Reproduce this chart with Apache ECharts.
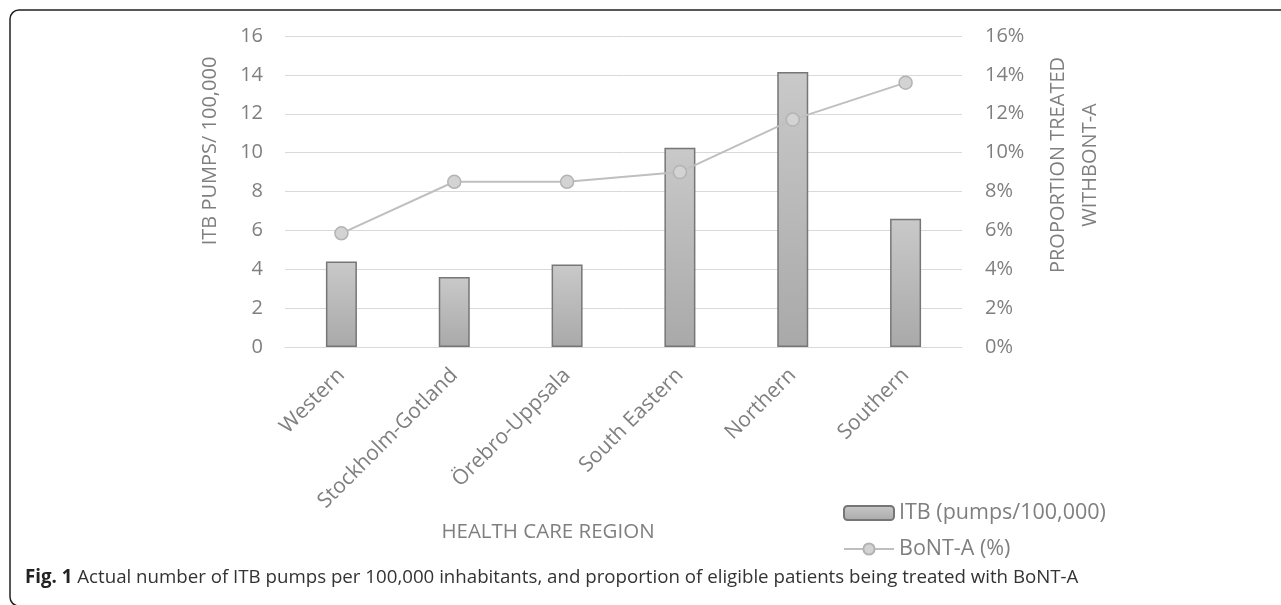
<!DOCTYPE html>
<html>
<head>
<meta charset="utf-8">
<script src="https://cdn.jsdelivr.net/npm/echarts@6/dist/echarts.min.js"></script>
<style>
  html, body { margin: 0; padding: 0; background: #fff; }
  #chart { width: 1281px; height: 605px; }
</style>
</head>
<body>
<div id="chart"></div>
<script>
const categories = ['Western', 'Stockholm-Gotland', 'Örebro-Uppsala', 'South Eastern', 'Northern', 'Southern'];
const itbValues = [4.4, 3.6, 4.25, 10.25, 14.15, 6.6];
const bontValues = [5.85, 8.5, 8.5, 9.0, 11.7, 13.6];
const leftTicks = [0, 2, 4, 6, 8, 10, 12, 14, 16];
const rightTicks = ['0%', '2%', '4%', '6%', '8%', '10%', '12%', '14%', '16%'];
const seriesNames = ['ITB (pumps/100,000)', 'BoNT-A (%)'];

const FONT = '"Open Sans", "DejaVu Sans", sans-serif';
const GRAY = '#7f7f7f';

const chart = echarts.init(document.getElementById('chart'), null, { renderer: 'canvas' });

chart.setOption({
  animation: false,
  backgroundColor: '#ffffff',
  textStyle: { fontFamily: FONT },
  grid: { left: 285, right: 319, top: 36, bottom: 258, containLabel: false },
  legend: {
    orient: 'vertical',
    left: 843,
    top: 502,
    padding: 0,
    itemWidth: 50,
    itemHeight: 14,
    itemGap: 14,
    textStyle: { fontFamily: FONT, fontSize: 21.5, color: GRAY },
    data: seriesNames
  },
  xAxis: {
    type: 'category',
    data: categories,
    axisLine: { lineStyle: { color: '#d9d9d9', width: 1 } },
    axisTick: { show: false },
    axisLabel: { rotate: 45, margin: 25, fontFamily: FONT, fontSize: 21, color: GRAY, interval: 0 }
  },
  yAxis: [
    {
      type: 'value',
      min: leftTicks[0],
      max: leftTicks[leftTicks.length - 1],
      interval: 2,
      axisLine: { show: false },
      axisTick: { show: false },
      splitLine: { lineStyle: { color: '#d9d9d9', width: 1 } },
      axisLabel: { margin: 22, fontFamily: FONT, fontSize: 20, color: GRAY }
    },
    {
      type: 'value',
      min: 0,
      max: 16,
      interval: 2,
      position: 'right',
      axisLine: { show: false },
      axisTick: { show: false },
      splitLine: { show: false },
      axisLabel: {
        margin: 23, fontFamily: FONT, fontSize: 20, color: GRAY,
        formatter: function (v) { return rightTicks[leftTicks.indexOf(v)]; }
      }
    }
  ],
  series: [
    {
      name: seriesNames[0],
      type: 'bar',
      data: itbValues,
      barWidth: 31,
      itemStyle: {
        color: new echarts.graphic.LinearGradient(0, 0, 0, 1, [
          { offset: 0, color: '#c9c9c9' },
          { offset: 1, color: '#a9a9a9' }
        ]),
        borderColor: '#767676',
        borderWidth: 1.5
      }
    },
    {
      name: seriesNames[1],
      type: 'line',
      yAxisIndex: 1,
      data: bontValues,
      symbol: 'circle',
      symbolSize: 13,
      lineStyle: { color: '#bfbfbf', width: 2 },
      itemStyle: { color: '#d3d3d3', borderColor: '#b3b3b3', borderWidth: 1.5 },
      z: 3
    }
  ],
  graphic: [
    {
      type: 'rect',
      shape: { x: 10, y: 10, width: 1300, height: 596, r: 9 },
      style: { fill: 'none', stroke: '#222', lineWidth: 1.5 },
      silent: true
    },
    {
      type: 'text',
      x: 210, y: 151,
      rotation: Math.PI / 2,
      style: { text: 'ITB PUMPS/ 100,000', font: '20px ' + FONT, fill: GRAY, align: 'center', verticalAlign: 'middle' }
    },
    {
      type: 'text',
      x: 1058, y: 165,
      rotation: Math.PI / 2,
      style: { text: 'PROPORTION TREATED', font: '20px ' + FONT, fill: GRAY, align: 'center', verticalAlign: 'middle' }
    },
    {
      type: 'text',
      x: 1090, y: 165,
      rotation: Math.PI / 2,
      style: { text: 'WITHBONT-A', font: '20px ' + FONT, fill: GRAY, align: 'center', verticalAlign: 'middle' }
    },
    {
      type: 'text',
      x: 548, y: 532,
      style: { text: 'HEALTH CARE REGION', font: '20.5px ' + FONT, fill: GRAY, align: 'center', verticalAlign: 'middle' }
    },
    {
      type: 'text',
      x: 25, y: 578,
      style: {
        text: '{b|Fig. 1} Actual number of ITB pumps per 100,000 inhabitants, and proportion of eligible patients being treated with BoNT-A',
        verticalAlign: 'middle',
        font: '18.7px ' + FONT,
        fill: '#333333',
        rich: {
          b: { fontFamily: FONT, fontSize: 18.7, fontWeight: 'bold', fill: '#222222', color: '#222222' }
        }
      }
    }
  ]
});
</script>
</body>
</html>
